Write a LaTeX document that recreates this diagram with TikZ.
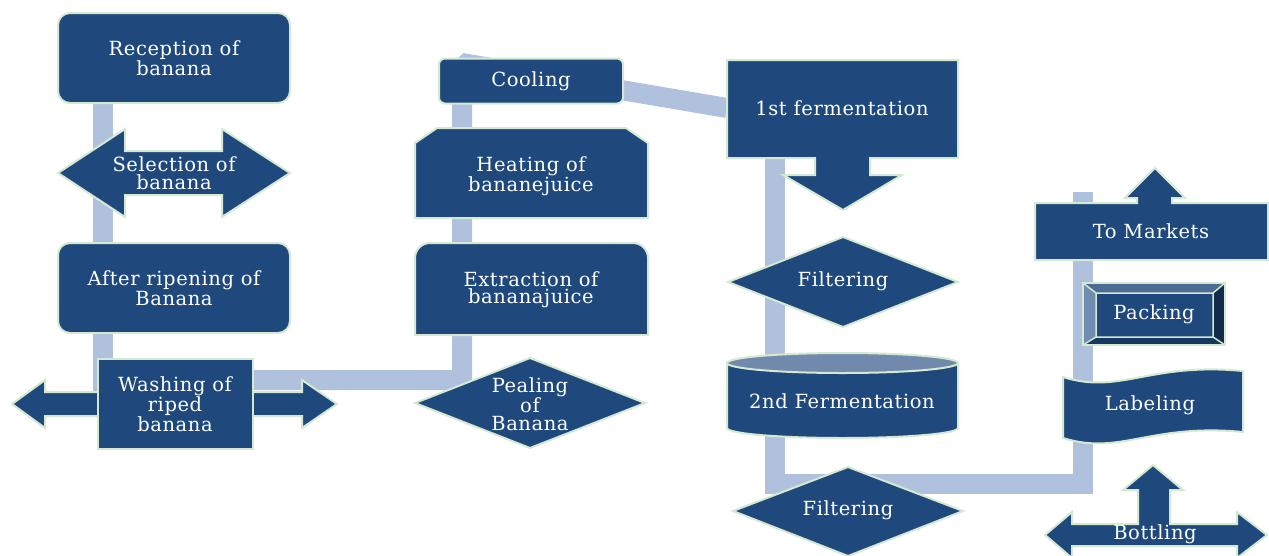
\documentclass[tikz,border=0pt]{standalone}
\usepackage{fontspec}
\setmainfont{DejaVu Serif}[LetterSpace=3]
\usetikzlibrary{backgrounds}

\definecolor{stepblue}{HTML}{1F497D}
\definecolor{rimgreen}{HTML}{D4E9D0}
\definecolor{linkblue}{HTML}{AFC1DD}
\definecolor{lidblue}{HTML}{7089AD}
\definecolor{bevlight}{HTML}{6F8CB2}
\definecolor{bevtop}{HTML}{4B6C95}
\definecolor{bevdark}{HTML}{122B4B}
\definecolor{bevbottom}{HTML}{173860}

\begin{document}
\begin{tikzpicture}[
  x=1pt,
  y=-1pt,
  font=\fontsize{19.5}{17.5}\selectfont,
  blk/.style={fill=stepblue, draw=rimgreen, line width=2pt},
  lbl/.style={text=white, align=center, inner sep=0pt},
  box/.style={blk, lbl, rectangle},
  rbox/.style={box, rounded corners=12pt},
  link/.style={draw=linkblue, line width=20pt}
]
\useasboundingbox (0,0) rectangle (1269,555);

% Spalte 1: Annahme bis Waschen
\node[rbox, minimum width=232, minimum height=90] (recep) at (174,58) {Reception of\\banana};
\draw[blk] (58,173) -- (125,129) -- (125,151) -- (222,151) -- (222,129) -- (290,173)
  -- (222,217) -- (222,195) -- (125,195) -- (125,217) -- cycle;
\node[lbl] (sel) at (174,173) {Selection of\\banana};
\node[rbox, minimum width=232, minimum height=90] (ripen) at (174,288) {After ripening of\\Banana};
\draw[blk] (12,404) -- (45,380) -- (45,392) -- (302,392) -- (302,380) -- (337,404)
  -- (302,428) -- (302,416) -- (45,416) -- (45,428) -- cycle;
\node[box, minimum width=155, minimum height=90] (wash) at (175,404) {Washing of\\riped\\banana};

% Spalte 2: Schaelen bis Kuehlen
\node[rbox, rounded corners=6pt, minimum width=184, minimum height=45] (cool) at (531,81) {Cooling};
\draw[blk] (415,218) -- (415,143) -- (437,128) -- (626,128) -- (648,143) -- (648,218) -- cycle;
\node[lbl] (heat) at (531,176) {Heating of\\bananejuice};
\draw[blk] (415,335) -- (415,258) arc[start angle=180, end angle=90, radius=15pt]
  -- (633,243) arc[start angle=90, end angle=0, radius=15pt] -- (648,335) -- cycle;
\node[lbl] (extract) at (531,290) {Extraction of\\bananajuice};
\draw[blk] (415,403) -- (530,358) -- (645,403) -- (530,448) -- cycle;
\node[lbl] (peal) at (530,404) {Pealing\\of\\Banana};

% Spalte 3: Gaerung und Filtern
\draw[blk] (727,60) -- (958,60) -- (958,158) -- (870,158) -- (870,175) -- (902,175) -- (843,210)
  -- (783,175) -- (815,175) -- (815,158) -- (727,158) -- cycle;
\node[lbl] (ferm1) at (842,108) {1st fermentation};
\draw[blk] (728,282) -- (843,237) -- (958,282) -- (843,327) -- cycle;
\node[lbl] (filt1) at (843,281) {Filtering};
\draw[blk] (727,363) -- (727,428) arc[start angle=180, end angle=360, x radius=115.5pt, y radius=10pt]
  -- (958,363) -- cycle;
\draw[blk, fill=lidblue] (842.5,363) ellipse[x radius=115.5pt, y radius=10pt];
\node[lbl] (ferm2) at (842,401) {2nd Fermentation};
\draw[blk] (733,511) -- (848,467) -- (963,511) -- (848,556) -- cycle;
\node[lbl] (filt2) at (848,510) {Filtering};

% Spalte 4: Abfuellen bis Markt
\draw[blk] (1045,535) -- (1072,512) -- (1072,524) -- (1138,524) -- (1138,490) -- (1123,490)
  -- (1153,465) -- (1183,490) -- (1170,490) -- (1170,524) -- (1237,524) -- (1237,512)
  -- (1267,535) -- (1237,558) -- (1237,546) -- (1072,546) -- (1072,558) -- cycle;
\node[lbl] (bottle) at (1155,534) {Bottling};
\draw[blk] (1063,377) .. controls (1120,395) and (1150,362) .. (1243,371) -- (1243,432)
  .. controls (1150,423) and (1120,456) .. (1063,438) -- cycle;
\node[lbl] (label) at (1150,405) {Labeling};
\fill[stepblue] (1083,283) rectangle (1225,345);
\fill[bevtop] (1083,283) -- (1225,283) -- (1213,293) -- (1096,293) -- cycle;
\fill[bevlight] (1083,283) -- (1096,293) -- (1096,337) -- (1083,345) -- cycle;
\fill[bevdark] (1225,283) -- (1213,293) -- (1213,337) -- (1225,345) -- cycle;
\fill[bevbottom] (1083,345) -- (1096,337) -- (1213,337) -- (1225,345) -- cycle;
\draw[rimgreen, line width=1.5pt] (1096,293) rectangle (1213,337)
  (1083,283) -- (1096,293) (1225,283) -- (1213,293) (1083,345) -- (1096,337) (1225,345) -- (1213,337);
\draw[rimgreen, line width=2pt] (1083,283) rectangle (1225,345);
\node[lbl] (pack) at (1154,314) {Packing};
\draw[blk] (1035,203) -- (1137,203) -- (1137,198) -- (1125,198) -- (1155,168) -- (1185,198)
  -- (1172,198) -- (1172,203) -- (1268,203) -- (1268,260) -- (1035,260) -- cycle;
\node[lbl] (market) at (1151,231) {To Markets};

% Verbindungsbalken (hinter den Formen)
\coordinate (riseA) at (462,380);
\coordinate (riseB) at (462,63);
\coordinate (dropA) at (775,484);
\coordinate (dropB) at (1083,484);
\coordinate (topend) at (1083,192);
\begin{scope}[on background layer]
\draw[link] ([xshift=-71pt]recep.center) -- ([xshift=-72pt]wash.center);
\draw[link, line join=bevel] ([yshift=24pt]wash.center) -- (riseA) -- (riseB) -- ([xshift=-115pt]ferm1.center);
\draw[link] ([xshift=-67pt]ferm1.center) -- (dropA) -- (dropB) -- (topend);
\end{scope}

\end{tikzpicture}
\end{document}
